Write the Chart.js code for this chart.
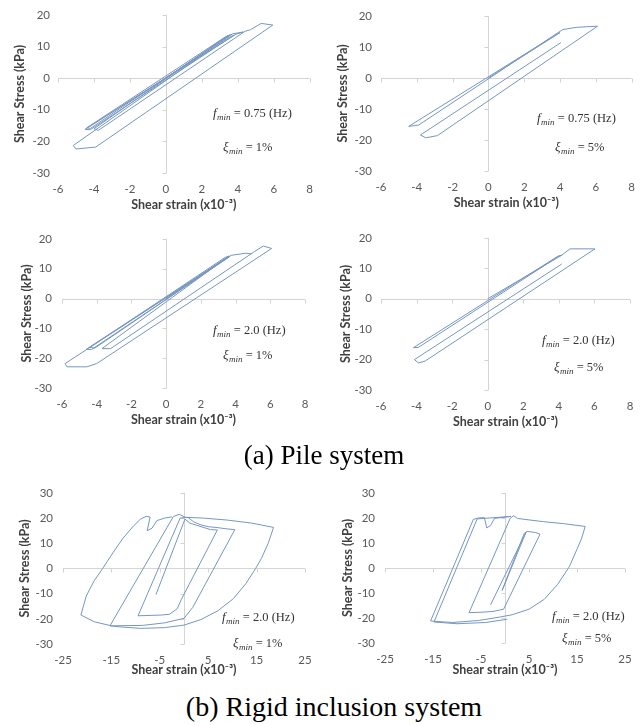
<!DOCTYPE html>
<html>
<head>
<meta charset="utf-8">
<script src="https://cdn.jsdelivr.net/npm/chart.js@4.4.1/dist/chart.umd.min.js"></script>
<style>
  body { margin: 0; background: #fff; }
  #page { position: relative; width: 644px; height: 725px; background: #fff; }
  canvas { position: absolute; }
  .caption { position: absolute; width: 644px; text-align: center; font-family: "Liberation Serif", "Times New Roman", serif; color: #000; white-space: nowrap; }
</style>
</head>
<body>
<div id="page">
  <canvas id="pile075x1" width="322" height="220" style="left:0;top:0"></canvas>
  <canvas id="pile075x5" width="322" height="220" style="left:322px;top:0"></canvas>
  <canvas id="pile20x1" width="322" height="220" style="left:0;top:222px"></canvas>
  <canvas id="pile20x5" width="322" height="220" style="left:322px;top:222px"></canvas>
  <div class="caption" style="left:2px;top:442px;font-size:27px;line-height:27px">(a) Pile system</div>
  <canvas id="rigid20x1" width="322" height="212" style="left:0;top:476px"></canvas>
  <canvas id="rigid20x5" width="322" height="212" style="left:322px;top:476px"></canvas>
  <div class="caption" style="left:12px;top:693px;font-size:28px;line-height:28px">(b) Rigid inclusion system</div>
</div>
<script>
// axis ticks
const pileStrainTicks = [-6, -4, -2, 0, 2, 4, 6, 8]
const pileStressTicks = [-30, -20, -10, 0, 10, 20]
const rigidStrainTicks = [-25, -15, -5, 5, 15, 25]
const rigidStressTicks = [-30, -20, -10, 0, 10, 20, 30]

// pile, f = 0.75 Hz, xi = 1%
const strainPile075x1 = [0, 3.5, 3.3, -4.4, -4.2, 3.6, 3.4, -4.0, -3.75, 4.4, 4.7, 5.3, 5.95, -3.9, -5.0, -5.15, 3.7, 4.3, 3.9, -4.5, -4.2, 3.8, 3.6, -4.3]
const stressPile075x1 = [0, 13.5, 13.0, -15.7, -15.9, 13.8, 13.3, -16.0, -16.5, 14.8, 15.3, 17.3, 16.8, -21.8, -22.4, -21.3, 14.0, 14.6, 13.9, -16.2, -16.3, 13.6, 13.2, -15.5]

// pile, f = 0.75 Hz, xi = 5%
const strainPile075x5 = [0, 4.0, 3.85, -4.45, -3.9, 4.15, 4.9, 6.1, -2.85, -3.5, -3.8, 4.05]
const stressPile075x5 = [0, 14.6, 14.2, -15.6, -15.2, 15.6, 16.3, 16.7, -18.6, -19.3, -18.4, 11.4]

// pile, f = 2.0 Hz, xi = 1%
const strainPile20x1 = [0, 3.6, 3.4, -4.4, -4.1, 3.7, 3.5, -4.6, -4.3, 3.65, 3.45, -3.7, -3.2, 5.0, 5.1, 5.6, 6.08, -4.0, -4.57, -5.72, -5.82, 3.75, 4.6, 4.9]
const stressPile20x1 = [0, 14.2, 13.8, -16.4, -16.6, 14.3, 13.7, -17.0, -17.1, 14.0, 13.5, -16.8, -16.8, 15.4, 15.8, 17.6, 16.8, -21.8, -22.9, -22.9, -21.8, 14.5, 15.2, 15.0]

// pile, f = 2.0 Hz, xi = 5%
const strainPile20x5 = [0, 4.16, 3.95, -4.18, -3.9, 4.0, 4.16, 4.63, 6.03, -3.52, -3.9, -4.12, 4.16]
const stressPile20x5 = [0, 14.3, 14.0, -16.1, -16.0, 14.0, 14.3, 16.4, 16.4, -20.5, -21.1, -20.0, 11.4]

// rigid inclusion, f = 2.0 Hz, xi = 1%
const strainRigid20x1 = [-5.8, 0.2, 1.2, 5.5, 6.9, -0.6, -1.4, -3.0, -4.7, -9.5, -0.8, 0.8, 2.0, 3.5, 5.0, 7.0, 8.5, 10.5, 1.8, 0.0, -4.0, -8.5, -15.3, -2.2, -1.0, 0.3, 4.0, 9.0, 14.0, 18.5, 17.4, 16.0, 14.8, 12.8, 10.2, 7.0, 3.5, 0.0, -4.0, -9.0, -14.5, -18.5, -21.3, -20.2, -18.6, -16.8, -14.6, -12.6, -10.6, -9.0, -7.8, -7.0, -7.6, -6.6, -5.6, -4.0, -2.5]
const stressRigid20x1 = [-10.4, 19.6, 18.0, 15.4, 15.3, -12.5, -16.0, -18.2, -18.5, -18.8, 20.0, 20.3, 18.5, 17.3, 16.6, 16.2, 15.8, 15.4, -15.5, -19.8, -21.6, -22.6, -22.8, 20.6, 21.5, 20.3, 20.0, 19.2, 18.0, 16.3, 10.0, 4.0, 0.0, -6.0, -12.0, -16.8, -20.3, -22.5, -23.5, -23.8, -23.0, -21.2, -18.5, -11.0, -5.0, 0.0, 6.5, 12.0, 16.5, 19.6, 20.7, 20.4, 15.0, 16.0, 19.0, 20.0, 20.5]

// rigid inclusion, f = 2.0 Hz, xi = 5%
const strainRigid20x5 = [-3.0, 4.4, -0.6, 4.0, 4.6, 6.3, 7.3, -0.3, -2.5, -5.0, -7.5, 1.1, 1.8, 2.6, 5.0, 8.0, 12.2, 16.7, 16.0, 15.0, 13.4, 11.0, 8.2, 5.0, 1.5, -1.0, -5.5, -11.0, -15.5, -6.6, -5.5, -4.3, -3.8, -3.0, -2.2, 0.4, 1.2, -5.8, -14.8, -10.0, -4.0, 0.5]
const stressRigid20x5 = [-14.7, 14.4, -9.0, 13.8, 14.6, 14.2, 13.5, -16.5, -17.4, -17.7, -17.9, 19.9, 20.9, 19.8, 19.2, 18.5, 17.7, 16.6, 12.0, 7.5, 0.5, -6.5, -12.5, -16.5, -18.7, -19.6, -21.0, -21.8, -21.2, 19.4, 20.0, 20.1, 16.0, 17.0, 19.8, 20.4, 20.6, 19.6, -21.6, -22.3, -21.8, -20.5]

const LOOP_COLOR = '#7696c2'
const AXIS_COLOR = '#d4d4d4'
const LABEL_COLOR = '#595959'
const TITLE_COLOR = '#404040'

Chart.defaults.font.family = 'Lato'

// axes crossing at zero, with small tick marks on them
const zeroAxes = {
    id: 'zeroAxes',
    beforeDatasetsDraw(chart) {
        const { ctx, chartArea: a, scales: { x, y } } = chart
        const x0 = Math.round(x.getPixelForValue(0)) + 0.5
        const y0 = Math.round(y.getPixelForValue(0)) + 0.5
        ctx.save()
        ctx.strokeStyle = AXIS_COLOR
        ctx.lineWidth = 1
        ctx.beginPath()
        ctx.moveTo(a.left, y0); ctx.lineTo(a.right, y0)
        ctx.moveTo(x0, a.top); ctx.lineTo(x0, a.bottom)
        x.ticks.forEach(t => {
            const px = Math.round(x.getPixelForValue(t.value)) + 0.5
            ctx.moveTo(px, y0); ctx.lineTo(px, y0 + 4)
        })
        y.ticks.forEach(t => {
            const py = Math.round(y.getPixelForValue(t.value)) + 0.5
            ctx.moveTo(x0 - 4, py); ctx.lineTo(x0, py)
        })
        ctx.stroke()
        ctx.restore()
    }
}

// f_min and xi_min notes
function drawNote(ctx, x, y, sym, rest) {
    ctx.font = 'italic 13px "Liberation Serif"'
    ctx.fillText(sym, x, y)
    x += ctx.measureText(sym).width + 0.5
    ctx.font = 'italic 9px "Liberation Serif"'
    ctx.fillText('min', x, y + 3)
    x += ctx.measureText('min').width
    ctx.font = '12.5px "Liberation Serif"'
    ctx.fillText(' = ' + rest, x, y)
}
const notesPlugin = {
    id: 'notes',
    afterDraw(chart, args, opts) {
        const ctx = chart.ctx
        ctx.save()
        ctx.fillStyle = '#333'
        ctx.textBaseline = 'alphabetic'
        drawNote(ctx, opts.f[0], opts.f[1], 'f', opts.freq)
        drawNote(ctx, opts.xi[0], opts.xi[1], 'ξ', opts.damping)
        ctx.restore()
    }
}

function makeChart(id, strain, stress, xTicks, yTicks, box, notes) {
    const canvas = document.getElementById(id)
    const w = canvas.width, h = canvas.height
    const titleFont = { family: 'Lato', size: 12.5, weight: 'bold', lineHeight: 1.2 }
    const lh = 12.5 * 1.2
    const points = strain.map((v, i) => ({ x: v, y: stress[i] }))
    return new Chart(canvas, {
        type: 'scatter',
        data: {
            datasets: [{
                data: points,
                showLine: true,
                borderColor: LOOP_COLOR,
                borderWidth: 1,
                pointRadius: 0,
                tension: 0
            }]
        },
        options: {
            responsive: false,
            animation: false,
            layout: { padding: { top: box.t, right: w - box.r, left: 0, bottom: 0 } },
            plugins: {
                legend: { display: false },
                tooltip: { enabled: false },
                notes: notes
            },
            scales: {
                x: {
                    type: 'linear',
                    min: xTicks[0],
                    max: xTicks[xTicks.length - 1],
                    afterBuildTicks: s => { s.ticks = xTicks.map(v => ({ value: v })) },
                    afterFit: s => { s.height = h - box.b },
                    grid: { display: false, drawTicks: false },
                    border: { display: false },
                    ticks: { color: LABEL_COLOR, font: { size: 11.5 }, padding: 9, maxRotation: 0, callback: v => String(v) },
                    title: {
                        display: true,
                        text: 'Shear strain (x10⁻³)',
                        color: TITLE_COLOR,
                        font: titleFont,
                        padding: { top: 0, bottom: h - box.xt - lh / 2 }
                    }
                },
                y: {
                    type: 'linear',
                    min: yTicks[0],
                    max: yTicks[yTicks.length - 1],
                    afterBuildTicks: s => { s.ticks = yTicks.map(v => ({ value: v })) },
                    afterFit: s => { s.width = box.l },
                    grid: { display: false, drawTicks: false },
                    border: { display: false },
                    ticks: { color: LABEL_COLOR, font: { size: 11.5 }, padding: box.tp, callback: v => String(v) },
                    title: {
                        display: true,
                        text: 'Shear Stress (kPa)',
                        color: TITLE_COLOR,
                        font: titleFont,
                        padding: { top: box.yt - lh / 2, bottom: 0 }
                    }
                }
            }
        },
        plugins: [zeroAxes, notesPlugin]
    })
}

makeChart('pile075x1', strainPile075x1, stressPile075x1, pileStrainTicks, pileStressTicks,
    { l: 58, r: 310, t: 11, b: 173, tp: 8, xt: 205, yt: 20 },
    { freq: '0.75 (Hz)', damping: '1%', f: [213, 117], xi: [223, 151] })
makeChart('pile075x5', strainPile075x5, stressPile075x5, pileStrainTicks, pileStressTicks,
    { l: 59, r: 310, t: 11, b: 171, tp: 9, xt: 203, yt: 21 },
    { freq: '0.75 (Hz)', damping: '5%', f: [215, 122], xi: [233, 151] })
makeChart('pile20x1', strainPile20x1, stressPile20x1, pileStrainTicks, pileStressTicks,
    { l: 62, r: 305, t: 12, b: 166, tp: 10, xt: 198, yt: 27 },
    { freq: '2.0 (Hz)', damping: '1%', f: [213, 112], xi: [223, 137] })
makeChart('pile20x5', strainPile20x5, stressPile20x5, pileStrainTicks, pileStressTicks,
    { l: 59, r: 308, t: 9, b: 168, tp: 9, xt: 200, yt: 24 },
    { freq: '2.0 (Hz)', damping: '5%', f: [220, 122], xi: [232, 149] })
makeChart('rigid20x1', strainRigid20x1, stressRigid20x1, rigidStrainTicks, rigidStressTicks,
    { l: 63, r: 305, t: 11, b: 168, tp: 10, xt: 194, yt: 25 },
    { freq: '2.0 (Hz)', damping: '1%', f: [222, 145], xi: [233, 171] })
makeChart('rigid20x5', strainRigid20x5, stressRigid20x5, rigidStrainTicks, rigidStressTicks,
    { l: 63, r: 303, t: 11, b: 167, tp: 10, xt: 194, yt: 26 },
    { freq: '2.0 (Hz)', damping: '5%', f: [230, 144], xi: [240, 166] })
</script>
</body>
</html>
